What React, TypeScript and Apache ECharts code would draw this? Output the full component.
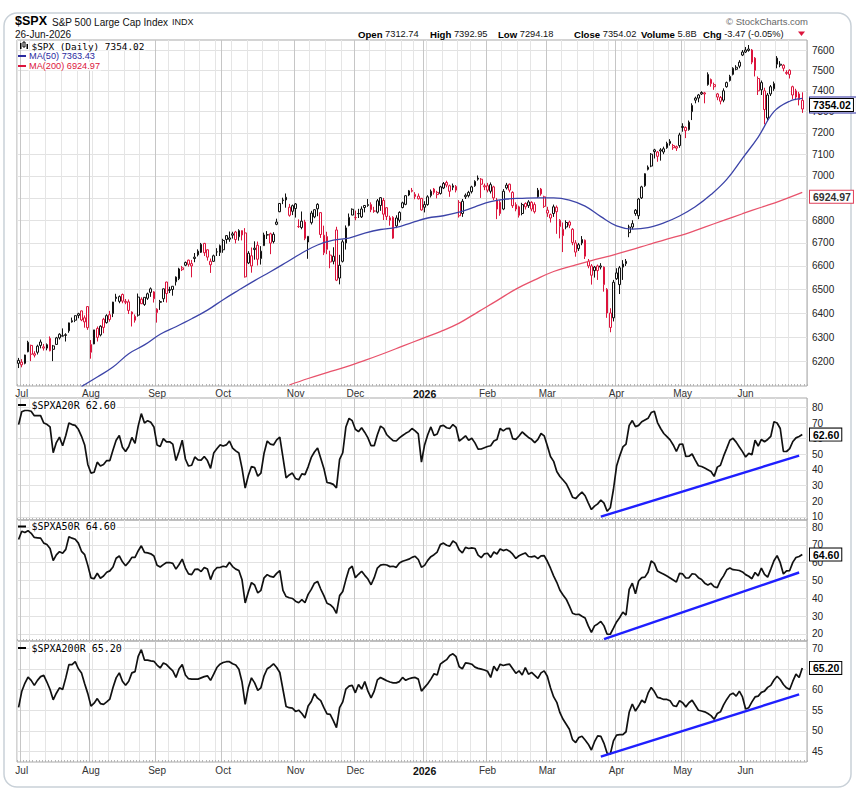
import React, { useEffect, useRef } from 'react';
import * as echarts from 'echarts';

// ---------- calendar ----------
const HOLIDAYS = ['2025-07-04', '2025-09-01', '2025-11-27', '2025-12-25', '2026-01-01', '2026-01-19', '2026-02-16', '2026-04-03', '2026-05-25', '2026-06-19'];
const MONTHS = ['Jan', 'Feb', 'Mar', 'Apr', 'May', 'Jun', 'Jul', 'Aug', 'Sep', 'Oct', 'Nov', 'Dec'];

// ---------- axis ticks ----------
const PRICE_TICKS = [6200, 6300, 6400, 6500, 6600, 6700, 6800, 6900, 7000, 7100, 7200, 7300, 7400, 7500, 7600];
const A20_TICKS = [10, 20, 30, 40, 50, 60, 70, 80];
const A50_TICKS = [20, 30, 40, 50, 60, 70, 80];
const A200_TICKS = [45, 50, 55, 60, 65, 70];

// ---------- $SPX daily OHLC (Jun 30 2025 .. Jun 26 2026) ----------
const OPENS = [
  6193,
  6187, 6193, 6240, 6266, 6232, 6238, 6266, 6255, 6255, 6295, 6250, 6270, 6312, 6304, 6307, 6326, 6368, 6370, 6397, 6409, 6380, 6427,
  6270, 6272, 6336, 6309, 6374, 6360, 6393, 6398, 6461, 6449, 6478, 6445, 6447, 6404, 6386, 6391, 6458, 6436, 6462, 6487, 6489,
  6402, 6445, 6460, 6531, 6499, 6499, 6552, 6545, 6592, 6603, 6625, 6610, 6638, 6648, 6659, 6698, 6670, 6620, 6620, 6661, 6658,
  6670, 6732, 6722, 6734, 6748, 6727, 6754, 6744, 6613, 6600, 6677, 6690, 6632, 6688, 6736, 6740, 6706, 6782, 6838, 6888, 6903, 6858, 6865,
  6873, 6772, 6768, 6792, 6704, 6789, 6815, 6871, 6834, 6657, 6728, 6647, 6620, 6757, 6548, 6620, 6700, 6777, 6823,
  6812, 6830, 6815, 6866, 6866, 6870, 6841, 6836, 6866, 6889, 6856, 6811, 6813, 6810, 6800, 6857, 6871, 6913, 6934, 6916, 6908, 6898,
  6870, 6870, 6910, 6940, 6925, 6920, 6945, 6970, 6955, 6955, 6952, 6880, 6830, 6905, 6910, 6928, 6955, 6985, 6985, 6955,
  6955, 6930, 6950, 6890, 6880, 6850, 6945, 6962, 6925, 6870, 6860, 6830, 6875, 6865, 6880, 6870, 6905, 6940, 6905,
  6845, 6825, 6830, 6858, 6800, 6760, 6770, 6792, 6760, 6700, 6675, 6700, 6712, 6620, 6600, 6580, 6600, 6595, 6595, 6500, 6400, 6380,
  6545, 6520, 6595, 6610, 6745, 6770, 6845, 6820, 6900, 6955, 7030, 7045, 7120, 7110, 7120, 7110, 7130, 7150, 7140, 7135, 7140,
  7225, 7225, 7215, 7300, 7365, 7365, 7385, 7390, 7430, 7455, 7430, 7385, 7368, 7355, 7420, 7450, 7480, 7505, 7520, 7575,
  7590, 7598, 7600, 7560, 7460, 7440, 7400, 7270, 7385, 7410, 7560, 7525, 7525, 7485, 7500, 7420, 7400, 7385, 7312.74,
];
const HIGHS = [
  6215,
  6210, 6228, 6285, 6269, 6242, 6269, 6290, 6272, 6274, 6303, 6268, 6301, 6316, 6336, 6316, 6360, 6381, 6390, 6401, 6410, 6390, 6428,
  6288, 6330, 6344, 6349, 6380, 6395, 6409, 6447, 6481, 6474, 6482, 6459, 6457, 6407, 6394, 6482, 6466, 6466, 6486, 6508, 6492,
  6420, 6455, 6503, 6532, 6511, 6513, 6555, 6592, 6600, 6619, 6627, 6626, 6656, 6672, 6700, 6700, 6672, 6632, 6649, 6677, 6693,
  6718, 6734, 6750, 6749, 6753, 6760, 6755, 6765, 6664, 6680, 6707, 6706, 6686, 6745, 6752, 6745, 6747, 6807, 6876, 6901, 6920, 6873, 6870,
  6877, 6804, 6839, 6802, 6729, 6842, 6849, 6876, 6835, 6776, 6749, 6666, 6681, 6771, 6648, 6715, 6777, 6830, 6853,
  6843, 6851, 6862, 6867, 6895, 6880, 6860, 6895, 6904, 6900, 6857, 6820, 6818, 6822, 6840, 6883, 6912, 6936, 6945, 6926, 6920, 6900,
  6885, 6912, 6938, 6945, 6932, 6955, 6972, 6978, 6960, 6965, 6958, 6890, 6895, 6920, 6932, 6955, 6980, 7002, 6990, 6965,
  6968, 6970, 6955, 6900, 6890, 6940, 6968, 6965, 6930, 6880, 6865, 6878, 6880, 6890, 6885, 6880, 6945, 6945, 6910,
  6860, 6830, 6870, 6866, 6805, 6790, 6800, 6798, 6765, 6712, 6700, 6730, 6715, 6630, 6608, 6600, 6606, 6612, 6598, 6505, 6420, 6540,
  6590, 6600, 6625, 6630, 6780, 6800, 6850, 6900, 6955, 7012, 7048, 7105, 7125, 7115, 7128, 7135, 7158, 7170, 7148, 7140, 7200,
  7245, 7230, 7258, 7340, 7372, 7385, 7398, 7395, 7490, 7460, 7440, 7390, 7375, 7412, 7445, 7478, 7515, 7525, 7550, 7600,
  7615, 7625, 7605, 7565, 7470, 7450, 7415, 7390, 7428, 7445, 7570, 7545, 7530, 7500, 7505, 7425, 7410, 7395, 7392.95,
];
const LOWS = [
  6174,
  6177, 6189, 6238, 6202, 6217, 6229, 6254, 6245, 6246, 6242, 6202, 6269, 6290, 6303, 6282, 6318, 6360, 6362, 6378, 6366, 6339, 6330,
  6212, 6271, 6282, 6303, 6316, 6356, 6364, 6383, 6448, 6441, 6441, 6437, 6396, 6344, 6360, 6385, 6438, 6430, 6455, 6468, 6444,
  6360, 6413, 6446, 6444, 6484, 6473, 6516, 6539, 6578, 6599, 6597, 6551, 6616, 6641, 6656, 6643, 6623, 6570, 6617, 6643, 6643,
  6657, 6697, 6705, 6719, 6698, 6710, 6711, 6550, 6608, 6571, 6627, 6602, 6606, 6687, 6717, 6651, 6698, 6778, 6836, 6872, 6856, 6816, 6823,
  6812, 6766, 6760, 6712, 6631, 6781, 6809, 6818, 6722, 6647, 6651, 6590, 6607, 6535, 6521, 6615, 6671, 6773, 6823,
  6800, 6810, 6810, 6835, 6860, 6836, 6833, 6830, 6842, 6801, 6801, 6776, 6718, 6765, 6790, 6853, 6867, 6908, 6925, 6894, 6893, 6843,
  6835, 6865, 6902, 6915, 6898, 6915, 6940, 6948, 6905, 6935, 6925, 6812, 6815, 6895, 6902, 6920, 6950, 6978, 6900, 6935,
  6925, 6920, 6890, 6805, 6820, 6845, 6938, 6925, 6855, 6840, 6812, 6822, 6848, 6855, 6840, 6830, 6900, 6910, 6855,
  6815, 6790, 6815, 6740, 6720, 6660, 6760, 6765, 6690, 6640, 6665, 6690, 6630, 6590, 6520, 6550, 6540, 6585, 6490, 6380, 6320, 6365,
  6540, 6480, 6540, 6600, 6725, 6760, 6820, 6805, 6895, 6950, 7025, 7040, 7080, 7065, 7070, 7100, 7125, 7140, 7120, 7115, 7130,
  7205, 7175, 7210, 7260, 7340, 7345, 7380, 7340, 7425, 7420, 7405, 7355, 7335, 7345, 7415, 7445, 7475, 7500, 7510, 7570,
  7585, 7592, 7530, 7470, 7380, 7380, 7240, 7255, 7375, 7400, 7510, 7515, 7495, 7478, 7460, 7360, 7355, 7330, 7294.18,
];
const CLOSES = [
  6205,
  6198, 6227, 6279, 6230, 6226, 6263, 6280, 6260, 6269, 6244, 6264, 6297, 6297, 6306, 6310, 6359, 6363, 6389, 6390, 6371, 6363, 6339,
  6238, 6330, 6299, 6345, 6340, 6389, 6373, 6446, 6467, 6469, 6450, 6449, 6411, 6396, 6370, 6467, 6439, 6466, 6481, 6502, 6460,
  6416, 6448, 6502, 6482, 6495, 6513, 6532, 6587, 6584, 6615, 6607, 6600, 6632, 6664, 6694, 6657, 6638, 6605, 6644, 6661, 6688,
  6711, 6715, 6716, 6740, 6715, 6754, 6735, 6553, 6655, 6644, 6671, 6629, 6664, 6735, 6735, 6699, 6738, 6792, 6875, 6891, 6891, 6822, 6840,
  6852, 6772, 6796, 6720, 6729, 6832, 6847, 6851, 6737, 6734, 6672, 6617, 6642, 6539, 6603, 6705, 6766, 6813, 6849,
  6812, 6829, 6850, 6857, 6870, 6847, 6841, 6887, 6901, 6827, 6817, 6800, 6721, 6775, 6835, 6878, 6910, 6932, 6930, 6906, 6896, 6846,
  6858, 6905, 6930, 6925, 6915, 6950, 6965, 6958, 6930, 6948, 6935, 6820, 6885, 6912, 6925, 6950, 6975, 6990, 6962, 6950,
  6935, 6960, 6900, 6850, 6830, 6930, 6958, 6935, 6865, 6850, 6822, 6870, 6860, 6882, 6850, 6838, 6935, 6918, 6862,
  6832, 6810, 6860, 6838, 6772, 6732, 6790, 6778, 6702, 6660, 6692, 6715, 6642, 6600, 6560, 6595, 6580, 6600, 6520, 6400, 6340, 6530,
  6570, 6592, 6608, 6620, 6770, 6785, 6830, 6895, 6950, 7010, 7040, 7100, 7112, 7090, 7115, 7125, 7150, 7160, 7130, 7128, 7190,
  7230, 7210, 7250, 7330, 7355, 7380, 7392, 7385, 7480, 7435, 7420, 7370, 7350, 7400, 7440, 7470, 7510, 7515, 7540, 7590,
  7600, 7605, 7540, 7500, 7400, 7405, 7310, 7380, 7420, 7435, 7530, 7530, 7510, 7490, 7480, 7380, 7370, 7357.49, 7354.02,
];

// ---------- moving averages (day index, value) ----------
const MA50_PTS = [
  [20, 6100], [25, 6138], [30, 6178], [35, 6232], [40, 6268], [45, 6312], [50, 6343], [55, 6376], [60, 6412], [65, 6456],
  [70, 6497], [75, 6537], [80, 6575], [85, 6615], [90, 6656], [95, 6691], [100, 6712], [105, 6721], [110, 6743], [115, 6759],
  [120, 6768], [125, 6790], [130, 6810], [135, 6820], [140, 6836], [145, 6860], [150, 6883], [155, 6895], [160, 6898], [165, 6900],
  [170, 6900], [175, 6890], [180, 6863], [185, 6816], [190, 6775], [195, 6761], [200, 6767], [205, 6788], [210, 6819], [215, 6860],
  [220, 6915], [225, 6984], [230, 7081], [235, 7180], [240, 7300], [245, 7350], [249, 7363.43],
];
const MA200_PTS = [
  [86, 6106], [92, 6132], [98, 6156], [104, 6179], [110, 6205], [116, 6233], [122, 6263], [128, 6293], [134, 6323], [140, 6358],
  [146, 6405], [152, 6452], [158, 6501], [164, 6540], [170, 6576], [176, 6600], [182, 6623], [188, 6644], [194, 6667], [200, 6692],
  [206, 6717], [212, 6740], [218, 6770], [224, 6799], [230, 6829], [236, 6858], [242, 6887], [249, 6924.97],
];

// ---------- breadth: % of S&P 500 stocks above 20 / 50 / 200-day MA ----------
const A20R = [
  69, 77.2, 78, 78, 77.5, 74.7, 74.7, 74.7, 70, 69.2, 67.5, 51, 57.5, 61, 55.5, 62, 70, 69, 68.5, 66, 61.5, 56, 43.5,
  38, 38.5, 45, 42.5, 43.5, 46, 46, 52.8, 59, 62, 54.5, 51.8, 55, 60.8, 57, 68, 76, 70, 71.5, 70.5, 67.5,
  56, 55, 60, 58, 58, 56.5, 46, 52, 59, 47, 42.5, 43, 48.3, 46.5, 46.3, 48.6, 46, 41, 50.8, 53.5, 56,
  55.3, 56, 58.5, 54, 52.2, 50.8, 41, 28.4, 36.5, 42.2, 41.5, 36, 38, 50.7, 58.5, 56.5, 56, 59.2, 61, 48, 35, 36.8, 38,
  34.5, 33.7, 37.5, 37, 42, 48, 51.5, 54, 47.5, 41, 32, 31.6, 30.8, 28.5, 46.8, 51, 67.5, 73, 71.5,
  66, 64.5, 67, 64, 60.5, 55.5, 55.5, 62.5, 68, 66.6, 62.5, 60.5, 58.8, 58.5, 60.5, 62, 63.4, 64.5, 66.5, 65, 63, 45,
  56, 62.5, 67.5, 62, 63, 68, 68.5, 67, 66.5, 69, 67.2, 58.5, 60, 61.8, 59, 60.2, 57.3, 53.3, 53.4, 54.2,
  55, 55.5, 58.5, 59.5, 66.5, 65, 66.4, 66.6, 60, 59.6, 61.7, 64.3, 62.5, 60.8, 59.6, 57.5, 59.5, 63.3, 61.8,
  55.5, 48.6, 45.5, 39, 35.8, 33.6, 31.2, 27.3, 22.6, 21.7, 23.9, 25.8, 23.5, 19, 14.7, 16.9, 18.3, 20.8, 18.8, 13.6, 15.8, 27.5,
  42.5, 49, 54.7, 56.5, 68.5, 71.6, 67.7, 68.5, 70.8, 71.9, 73, 76.7, 77.5, 70.3, 66.5, 63.3, 61.3, 59.2, 56, 51.8, 56.3,
  56.6, 48.6, 48.8, 50.2, 46.3, 42.7, 42.2, 41.2, 40.1, 39, 35.9, 41.8, 43, 48.8, 53.8, 59, 60.2, 57.8, 54.7, 51.7,
  48.3, 50.6, 49.7, 59, 55.3, 59.5, 58, 59.5, 61.5, 70.8, 70, 66.5, 51.8, 51.8, 53.6, 58.2, 60.5, 61.4, 62.6,
];
const A50R = [
  73, 77.7, 77, 78, 76.5, 74.2, 74, 73.8, 71, 70.2, 68, 61.2, 64.4, 66.2, 65.3, 67.5, 74.6, 73.8, 73.2, 71, 66.4, 64.5, 58.5,
  51.5, 51, 54.1, 51.3, 52.5, 54.6, 55.4, 57.6, 62.5, 63.8, 60.5, 58.3, 60.3, 63, 63, 66.6, 69.5, 65.8, 65.5, 65, 63.8,
  58.6, 57.6, 58.9, 60.1, 60.1, 59.6, 56.4, 59, 62, 57, 53.7, 53.3, 56.2, 56.4, 55, 57.3, 56.4, 50.5, 55.2, 57.2, 57.3,
  58, 57.6, 60.2, 57.8, 56.4, 55.6, 50.4, 37.4, 43.5, 48.8, 47.5, 43, 44.5, 51.5, 53.3, 52.3, 51.9, 54, 55.5, 44.5, 41, 40.3, 39.9,
  38.4, 37.5, 39.2, 37.5, 42.2, 45, 48.5, 49.5, 45.2, 41.5, 37.2, 36.4, 34.8, 31.5, 41.5, 43.8, 50.5, 56.5, 58,
  51.6, 53.5, 55.2, 52.9, 50.8, 47.6, 51.6, 57, 58.6, 59, 58.7, 57.8, 58, 57.4, 59.8, 60.8, 61.4, 62, 63, 63.6, 61.8, 57.5,
  58.5, 61.3, 63.4, 64.5, 66, 70.2, 71, 69.8, 69.3, 72.2, 71, 67.2, 65.5, 68.6, 68, 68.3, 68, 64.3, 62.8, 65,
  65.3, 63, 66, 64.9, 67.7, 66.8, 67.4, 66.5, 64.8, 62.4, 63.9, 64.7, 65.5, 63.5, 63.3, 63.7, 62.3, 63.8, 64,
  60.8, 56.9, 52.6, 49, 44.5, 41.9, 39.5, 35.7, 31.6, 30.9, 31, 29.9, 28.9, 24.5, 20.8, 24.5, 25.6, 27, 24.5, 19.8, 19.8, 23.2,
  26.7, 29.2, 32.2, 30.6, 45, 48.5, 42.5, 49.7, 51.6, 51.9, 54.6, 61, 59.6, 55.3, 54.4, 53.5, 52.5, 51.4, 50.3, 49.2, 54,
  53.7, 51.4, 51.5, 53.8, 53.5, 51.6, 50.6, 48.5, 47.5, 48.4, 46.5, 46, 50, 52.6, 56, 57, 56.1, 55.9, 55.6, 54.8,
  53.3, 52.4, 51, 54.5, 52.6, 57, 53.5, 51.9, 56.4, 61.1, 64, 60, 53.7, 55.4, 55.6, 60.2, 62.9, 63.5, 64.6,
];
const A200R = [
  55.7, 59.5, 61.5, 63, 62.2, 61, 62.2, 63.1, 63.4, 61.8, 60, 57.5, 59.1, 60.4, 60, 62.8, 66, 66, 66.7, 65, 64, 61.4, 59,
  56, 56.7, 57.8, 56.6, 56.4, 57, 57.7, 60.5, 62.8, 64, 62, 61, 62, 64, 64.3, 68, 69.6, 67.1, 67.1, 66.9, 66.8,
  65.9, 65.2, 66.4, 66, 65.2, 64.5, 62.9, 65, 66, 63.5, 62.6, 62.5, 62.5, 62.5, 62.8, 63.1, 63.3, 62.2, 63.7, 65.3, 66.1,
  66.5, 66.7, 66.7, 66.2, 65.9, 64.9, 61.8, 56.4, 60.5, 62.8, 61.6, 59.8, 60.4, 63.3, 65, 65.5, 66.2, 65.3, 64.1, 60, 55.9, 55.6, 55.5,
  54.7, 55, 54.2, 53.1, 56, 57.1, 59, 57.9, 57.3, 55.6, 54.1, 54, 52.5, 50.8, 55.6, 57, 60.1, 60.8, 61,
  59.2, 61.2, 60.1, 61.9, 59.6, 58, 59.6, 62.3, 62.9, 62.5, 62.1, 61.8, 61.6, 61.6, 61.9, 62.9, 62.2, 62.6, 62.8, 62.9, 62.5, 59.6,
  60.5, 61.4, 62.5, 63.8, 63.5, 66.1, 66.7, 67.2, 68.2, 68.6, 67.9, 65.5, 65, 66.4, 66.3, 66.1, 65.4, 65.1, 64.9, 64.7,
  64.4, 62.9, 65.6, 64.5, 66.1, 65.8, 66, 66.1, 65, 63.9, 64.5, 63.5, 65.3, 63.7, 64.1, 63.4, 62.7, 64, 64.5,
  63.2, 60.4, 58.2, 56.9, 54.4, 52.8, 51.6, 50.4, 47.9, 47.2, 48.4, 48.7, 47.8, 46.8, 45.4, 47.4, 48.8, 48.7, 47, 44.6, 44.4, 47.6,
  49, 49.1, 49.1, 49.8, 54.5, 56.5, 54.8, 56, 57.4, 56.8, 59.1, 60.5, 59.5, 58.1, 57.9, 57.6, 57.6, 57.3, 56.1, 55.9, 57.3,
  56.8, 55.8, 56.8, 57.4, 56.2, 55, 54.8, 54.6, 54.2, 53.7, 52.8, 54.2, 54.6, 56.3, 57.6, 58.7, 59.1, 58.4, 59.6, 58.2,
  55.3, 55.6, 57, 58.2, 58.4, 59.3, 59.6, 60.5, 61, 62.3, 63.2, 62.4, 61.2, 60.4, 60, 62, 63.7, 62.9, 65.2,
];

// ---------- drawn trend lines (day index, value) ----------
const TREND_A20 = [[185, 10.1], [248, 49.2]];
const TREND_A50 = [[186, 17], [248, 54.5]];
const TREND_A200 = [[185, 43.8], [248, 58.8]];

const RED = '#dc143c';
const BLK = '#111111';
const FONT = 'Liberation Sans';
const MONO = 'DejaVu Sans Mono';

function tradingDays(): string[] {
  const out: string[] = [];
  const d = new Date(Date.UTC(2025, 5, 30));
  const end = Date.UTC(2026, 5, 26);
  while (d.getTime() <= end) {
    const dow = d.getUTCDay();
    const s = d.toISOString().slice(0, 10);
    if (dow !== 0 && dow !== 6 && HOLIDAYS.indexOf(s) < 0) out.push(s);
    d.setUTCDate(d.getUTCDate() + 1);
  }
  return out;
}

function buildOption() {
  const dates = tradingDays();
  const cats = dates.concat(['']);
  const dow = (s: string) => new Date(s + 'T00:00:00Z').getUTCDay();
  const weekStart = cats.map((s, i) => i < dates.length && (i === 0 || dow(s) < dow(cats[i - 1])));
  const monthStart = cats.map((s, i) => i > 0 && i < dates.length && s.slice(5, 7) !== cats[i - 1].slice(5, 7));

  const LN = Math.log;
  const grids = [
    { top: 40, height: 346 },
    { top: 398, height: 122 },
    { top: 520, height: 121 },
    { top: 641, height: 121 },
  ];

  const xAxes: any[] = [];
  grids.forEach((_, k) => {
    xAxes.push({
      type: 'category', gridIndex: k, data: cats, boundaryGap: true, position: 'bottom',
      axisLine: { show: false },
      axisTick: { show: true, inside: true, length: 2, interval: 0, lineStyle: { color: '#b5b5b5', width: 1 } },
      axisLabel: { show: false },
      splitLine: { show: true, interval: (i: number) => weekStart[i], lineStyle: { color: '#e5e5e5', width: 1 } },
    });
    xAxes.push({
      type: 'category', gridIndex: k, data: cats, boundaryGap: true, position: 'bottom',
      axisLine: { show: false },
      axisTick: { show: false },
      axisLabel: {
        show: k === 0 || k === 3,
        interval: (i: number) => monthStart[i],
        formatter: (v: string) => {
          const m = parseInt(v.slice(5, 7), 10);
          return m === 1 ? '{b|' + v.slice(0, 4) + '}' : MONTHS[m - 1];
        },
        margin: k === 0 ? 2 : 3,
        fontSize: 10, color: '#333', fontFamily: FONT,
        rich: { b: { fontSize: 10.5, fontWeight: 'bold', color: '#111', fontFamily: FONT } },
      },
      splitLine: { show: true, interval: (i: number) => monthStart[i], lineStyle: { color: '#c6c6c6', width: 1 } },
    });
  });

  const yBase = (gridIndex: number, min: number, max: number, ticks: number[], fmt?: (v: number) => string) => ({
    type: 'value', gridIndex, position: 'right', min, max,
    axisLine: { show: false },
    axisTick: { show: false, customValues: ticks },
    axisLabel: { customValues: ticks, formatter: fmt, margin: 5, fontSize: 10, color: '#222', fontFamily: FONT },
    splitLine: { show: true, lineStyle: { color: '#e2e2e2', width: 1 } },
  });

  const yAxes = [
    yBase(0, LN(6102), LN(7650), PRICE_TICKS.map((t) => LN(t)), (v: number) => String(Math.round(Math.exp(v)))),
    yBase(1, 8, 86, A20_TICKS),
    yBase(2, 16, 84, A50_TICKS),
    yBase(3, 42.5, 71.7, A200_TICKS),
  ];

  const tag = (y: number, text: string, border: string, color: string, z: number, padding: number[] = [1, 2, 0, 3]) => ({
    silent: true, symbol: ['none', 'none'], z,
    lineStyle: { color: 'rgba(0,0,0,0)', width: 0, opacity: 1 },
    emphasis: { disabled: true },
    label: {
      show: true, position: 'end', distance: 3, formatter: text, opacity: 1,
      color, fontSize: 10.5, fontWeight: 'bold', fontFamily: FONT,
      backgroundColor: '#fff', borderColor: border, borderWidth: 1, padding,
    },
    data: [{ yAxis: y }],
  });

  const candles = CLOSES.map((c, k) => {
    const o = OPENS[k];
    const prev = k > 0 ? CLOSES[k - 1] : o;
    const stroke = c < prev ? RED : BLK;
    return {
      value: [LN(o), LN(c), LN(LOWS[k]), LN(HIGHS[k])],
      itemStyle: { color: '#fff', color0: stroke === RED ? RED : '#555', borderColor: stroke, borderColor0: stroke, borderWidth: 1 },
    };
  });

  const series: any[] = [
    {
      type: 'line', name: 'MA200', xAxisIndex: 0, yAxisIndex: 0,
      data: MA200_PTS.map(([j, v]) => [j, LN(v)]), smooth: 0.4, showSymbol: false,
      lineStyle: { color: '#e8536c', width: 1.3 }, silent: true,
      markLine: tag(LN(6924.97), '6924.97', '#e0405a', '#333', 5),
    },
    {
      type: 'line', name: 'MA50', xAxisIndex: 0, yAxisIndex: 0,
      data: MA50_PTS.map(([j, v]) => [j, LN(v)]), smooth: 0.4, showSymbol: false,
      lineStyle: { color: '#3c44a8', width: 1.3 }, silent: true,
      markLine: tag(LN(7363.43), '7363.43', '#2a2aa0', '#2a2aa0', 5, [3, 5, 1, 3]),
    },
    {
      type: 'candlestick', name: '$SPX', xAxisIndex: 0, yAxisIndex: 0, barWidth: 2.2, silent: true,
      data: candles,
      markLine: tag(LN(7354.02), '7354.02', '#000', '#000', 8),
    },
    {
      type: 'line', xAxisIndex: 2, yAxisIndex: 1, data: A20R, showSymbol: false, silent: true,
      lineStyle: { color: BLK, width: 1.7 }, markLine: tag(62.6, '62.60', '#000', '#000', 5),
    },
    {
      type: 'line', xAxisIndex: 4, yAxisIndex: 2, data: A50R, showSymbol: false, silent: true,
      lineStyle: { color: BLK, width: 1.7 }, markLine: tag(64.6, '64.60', '#000', '#000', 5),
    },
    {
      type: 'line', xAxisIndex: 6, yAxisIndex: 3, data: A200R, showSymbol: false, silent: true,
      lineStyle: { color: BLK, width: 1.7 }, markLine: tag(65.2, '65.20', '#000', '#000', 5),
    },
    { type: 'line', xAxisIndex: 2, yAxisIndex: 1, data: TREND_A20, showSymbol: false, silent: true, lineStyle: { color: '#1f1fff', width: 2.4 } },
    { type: 'line', xAxisIndex: 4, yAxisIndex: 2, data: TREND_A50, showSymbol: false, silent: true, lineStyle: { color: '#1f1fff', width: 2.4 } },
    { type: 'line', xAxisIndex: 6, yAxisIndex: 3, data: TREND_A200, showSymbol: false, silent: true, lineStyle: { color: '#1f1fff', width: 2.4 } },
  ];

  const txt = (x: number, y: number, text: string, opts: any = {}) => ({
    type: 'text', x, y, z: 20,
    style: Object.assign({ text, fill: '#111', fontSize: 10, fontFamily: FONT, verticalAlign: 'middle', align: 'left' }, opts),
  });
  const dash = (x: number, y: number, color: string) => ({
    type: 'line', z: 20, shape: { x1: x, y1: y, x2: x + 8, y2: y }, style: { stroke: color, lineWidth: 2 },
  });
  const legendBg = { backgroundColor: 'rgba(255,255,255,0.9)', padding: [0, 1, 0, 1] };

  const hdr = [
    ['Open', '7312.74', 358],
    ['High', '7392.95', 430],
    ['Low', '7294.18', 498],
    ['Close', '7354.02', 574],
    ['Volume', '5.8B', 641],
    ['Chg', '-3.47 (-0.05%)', 703],
  ];

  const graphic: any[] = [
    { type: 'rect', z: 0, shape: { x: 4, y: 13, width: 847, height: 774, r: 13 }, style: { fill: 'none', stroke: '#c9d1d8', lineWidth: 1.5 } },
    txt(15, 21, '$SPX', { fontSize: 12.5, fontWeight: 'bold', fill: '#000' }),
    txt(52, 22, 'S&P 500 Large Cap Index', { fontSize: 10, fill: '#111' }),
    txt(172, 22, 'INDX', { fontSize: 9, fill: '#111' }),
    txt(15, 34, '26-Jun-2026', { fontSize: 10, fill: '#111' }),
    txt(808, 21, '\u00A9 StockCharts.com', { fontSize: 9.5, fill: '#666', align: 'right' }),
    ...hdr.map(([l, v, x]) =>
      txt(x as number, 34, '{b|' + l + '} ' + v, {
        fontSize: 9.3, fill: '#111',
        rich: { b: { fontSize: 9.6, fontWeight: 'bold', fill: '#000', fontFamily: FONT } },
      })
    ),
    { type: 'polygon', z: 20, shape: { points: [[798, 31.5], [805, 31.5], [801.5, 36]] }, style: { fill: RED } },
    // legend: price
    { type: 'rect', z: 20, shape: { x: 20, y: 43, width: 1.5, height: 6 }, style: { fill: '#000' } },
    { type: 'rect', z: 20, shape: { x: 23, y: 42, width: 2, height: 5 }, style: { fill: '#fff', stroke: '#000', lineWidth: 1 } },
    { type: 'rect', z: 20, shape: { x: 26.5, y: 44, width: 1.5, height: 5 }, style: { fill: '#000' } },
    txt(30.5, 46, '$SPX (Daily) 7354.02', Object.assign({ fontFamily: MONO, fontSize: 9.4, fill: '#000' }, legendBg)),
    dash(18, 56, '#2a2aa0'),
    txt(28, 56, 'MA(50) 7363.43', Object.assign({ fontSize: 9.2, fill: '#2a2aa0' }, legendBg)),
    dash(18, 66, RED),
    txt(28, 66, 'MA(200) 6924.97', Object.assign({ fontSize: 9.2, fill: RED }, legendBg)),
    dash(18, 405, '#000'),
    txt(30.5, 405, '$SPXA20R 62.60', Object.assign({ fontFamily: MONO, fontSize: 10, fill: '#000' }, legendBg)),
    dash(18, 526.5, '#000'),
    txt(30.5, 526.5, '$SPXA50R 64.60', Object.assign({ fontFamily: MONO, fontSize: 10, fill: '#000' }, legendBg)),
    dash(18, 648, '#000'),
    txt(30.5, 648, '$SPXA200R 65.20', Object.assign({ fontFamily: MONO, fontSize: 10, fill: '#000' }, legendBg)),
  ];

  return {
    animation: false,
    backgroundColor: '#fff',
    grid: grids.map((g) => ({ left: 17, width: 790, top: g.top, height: g.height, show: true, borderColor: '#a9a9a9', borderWidth: 1, backgroundColor: 'transparent' })),
    xAxis: xAxes,
    yAxis: yAxes,
    series,
    graphic,
  };
}

export default function App() {
  const ref = useRef<HTMLDivElement>(null);
  useEffect(() => {
    if (!ref.current) return;
    const chart = echarts.init(ref.current, null, { renderer: 'svg' });
    chart.setOption(buildOption() as any);
    return () => chart.dispose();
  }, []);
  return <div ref={ref} style={{ position: 'fixed', left: 0, top: 0, width: 856, height: 802, background: '#fff' }} />;
}
